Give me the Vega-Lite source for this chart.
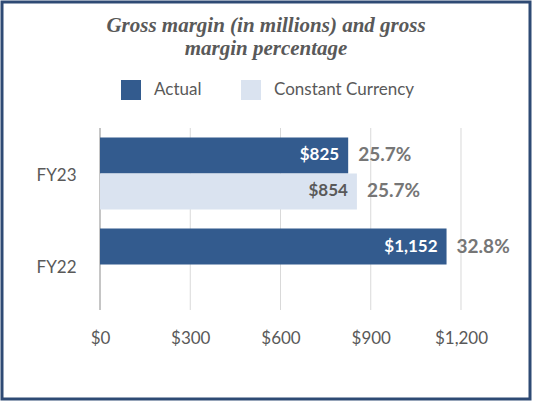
{
  "$schema": "https://vega.github.io/schema/vega-lite/v6.json",
  "width": 528,
  "height": 397,
  "autosize": {"type": "none"},
  "padding": {"left": 2, "top": 2, "right": 4, "bottom": 4},
  "background": "white",
  "config": {
    "view": {"stroke": "#2e4a74", "strokeWidth": 3},
    "font": "Lato"
  },
  "title": {
    "text": ["Gross margin (in millions) and gross", "margin percentage"],
    "font": "Liberation Serif",
    "fontSize": 21,
    "fontStyle": "italic",
    "fontWeight": "bold",
    "color": "#595959",
    "anchor": "middle",
    "frame": "group",
    "lineHeight": 23,
    "offset": -57
  },
  "layer": [
    {
      "data": {"values": [{"tick": 0}, {"tick": 300}, {"tick": 600}, {"tick": 900}, {"tick": 1200}]},
      "mark": {"type": "rule", "strokeWidth": 1},
      "encoding": {
        "x": {
          "field": "tick",
          "type": "quantitative",
          "scale": {"domain": [-325.8, 1429.4], "nice": false, "zero": false}
        },
        "y": {"datum": 0, "type": "quantitative", "scale": {"domain": [0, 1], "range": [126, 308]}, "axis": null},
        "y2": {"datum": 1},
        "color": {"condition": {"test": "datum.tick === 0", "value": "#8c8c8c"}, "value": "#d9d9d9"}
      }
    },
    {
      "data": {
        "values": [
          {"year": "FY23", "type": "Actual", "value": 825, "pct": "25.7%"},
          {"year": "FY23", "type": "Constant Currency", "value": 854, "pct": "25.7%"},
          {"year": "FY22", "type": "Actual", "value": 1152, "pct": "32.8%"}
        ]
      },
      "encoding": {
        "y": {
          "field": "year",
          "type": "nominal",
          "sort": ["FY23", "FY22"],
          "scale": {"range": [126, 308], "paddingInner": 0.209, "paddingOuter": 0.1044},
          "axis": {
            "title": null,
            "offset": -98,
            "ticks": false,
            "grid": false,
            "domain": false,
            "labelPadding": 24,
            "labelOffset": 3,
            "labelFontSize": 17,
            "labelColor": "#595959"
          }
        },
        "yOffset": {
          "field": "type",
          "type": "nominal",
          "sort": ["Actual", "Constant Currency"],
          "scale": {"paddingInner": 0, "paddingOuter": 0}
        },
        "x": {
          "field": "value",
          "type": "quantitative",
          "scale": {"domain": [-325.8, 1429.4], "nice": false, "zero": false},
          "axis": {
            "title": null,
            "values": [0, 300, 600, 900, 1200],
            "format": "$,.0f",
            "offset": -89,
            "domain": false,
            "ticks": false,
            "grid": false,
            "labelPadding": 20,
            "labelFontSize": 17,
            "labelColor": "#595959",
            "labelFlush": false
          }
        }
      },
      "layer": [
        {
          "mark": {"type": "bar"},
          "encoding": {
            "x2": {"datum": 0},
            "color": {
              "field": "type",
              "type": "nominal",
              "scale": {"domain": ["Actual", "Constant Currency"], "range": ["#335b8e", "#dae3f0"]},
              "legend": {
                "orient": "none",
                "legendX": 119,
                "legendY": 78,
                "direction": "horizontal",
                "title": null,
                "symbolType": "square",
                "symbolSize": 400,
                "symbolStrokeWidth": 0,
                "labelFontSize": 17,
                "labelColor": "#595959",
                "labelOffset": 13,
                "columnPadding": 39
              }
            }
          }
        },
        {
          "mark": {"type": "text", "align": "right", "dx": -9, "fontWeight": "bold", "fontSize": 17},
          "encoding": {
            "text": {"field": "value", "type": "quantitative", "format": "$,.0f"},
            "color": {"condition": {"test": "datum.type === 'Actual'", "value": "white"}, "value": "#595959"}
          }
        },
        {
          "mark": {"type": "text", "align": "left", "dx": 10, "fontWeight": "bold", "fontSize": 19, "color": "#767676"},
          "encoding": {
            "text": {"field": "pct", "type": "nominal"}
          }
        }
      ]
    }
  ],
  "resolve": {"scale": {"y": "independent"}}
}
